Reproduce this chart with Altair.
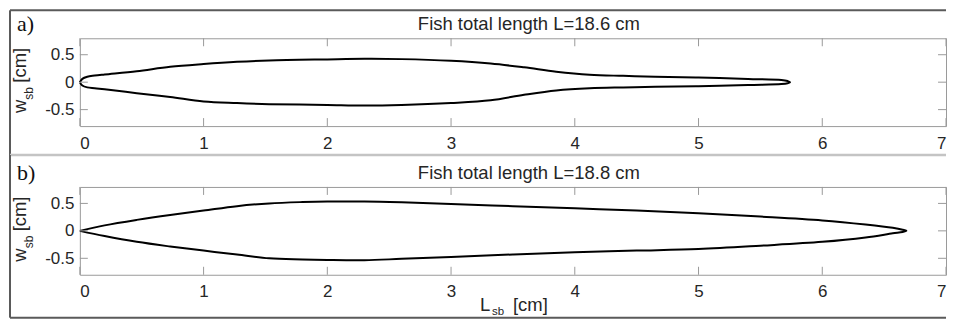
import altair as alt
import pandas as pd

titles = ["Fish total length L=18.6 cm", "Fish total length L=18.8 cm"]
panel_tags = ["a)", "b)"]
x_ticks = [0, 1, 2, 3, 4, 5, 6, 7]
y_ticks = [-0.5, 0, 0.5]

# panel a outline (upper edge nose->tail, then lower edge tail->nose)
fish_a_x = [0.00, 0.02, 0.06, 0.12, 0.20, 0.46, 0.73, 1.00, 1.27, 1.53, 2.00, 2.30, 2.60,
            3.00, 3.32, 3.59, 3.85, 4.12, 4.39, 4.65, 5.00, 5.40, 5.67, 5.72, 5.74,
            5.72, 5.67, 5.40, 5.00, 4.65, 4.39, 4.12, 3.85, 3.59, 3.32, 3.00, 2.60,
            2.30, 2.00, 1.53, 1.27, 1.00, 0.73, 0.46, 0.20, 0.12, 0.06, 0.02, 0.00]
fish_a_y = [0.00, 0.06, 0.10, 0.12, 0.14, 0.20, 0.28, 0.33, 0.37, 0.395, 0.415, 0.425, 0.42,
            0.39, 0.34, 0.27, 0.19, 0.135, 0.115, 0.10, 0.085, 0.06, 0.04, 0.02, 0.00,
            -0.02, -0.035, -0.05, -0.075, -0.085, -0.095, -0.11, -0.15, -0.23, -0.33, -0.38, -0.415,
            -0.425, -0.415, -0.40, -0.38, -0.35, -0.27, -0.20, -0.13, -0.11, -0.095, -0.06, 0.00]

# panel b outline
fish_b_x = [0.00, 0.20, 0.46, 0.73, 1.00, 1.27, 1.53, 1.80, 2.00, 2.30, 2.60, 3.00, 3.50,
            4.00, 4.50, 5.00, 5.50, 6.00, 6.35, 6.57, 6.65, 6.68,
            6.65, 6.57, 6.35, 6.00, 5.50, 5.00, 4.50, 4.00, 3.50, 3.00, 2.60, 2.30,
            2.00, 1.80, 1.53, 1.27, 1.00, 0.73, 0.46, 0.20, 0.00]
fish_b_y = [0.00, 0.10, 0.20, 0.29, 0.37, 0.45, 0.50, 0.525, 0.535, 0.535, 0.52, 0.49, 0.45,
            0.41, 0.37, 0.32, 0.26, 0.19, 0.115, 0.055, 0.02, 0.00,
            -0.02, -0.045, -0.12, -0.20, -0.27, -0.33, -0.36, -0.39, -0.43, -0.475, -0.51, -0.535,
            -0.53, -0.52, -0.50, -0.43, -0.36, -0.285, -0.20, -0.095, 0.00]

W, H = 868, 88
SANS = "Liberation Sans"
SERIF = "Liberation Serif"
AX = "#9a9a9a"
TXT = "#262626"
FRAME = "#5a5a5a"

one = pd.DataFrame({"k": [0]})
xs_ = alt.Scale(domain=[0, 7], nice=False, zero=False)
ys_ = alt.Scale(domain=[-0.8, 0.8], nice=False, zero=False)
ylabel = ("datum.value < 0 ? '-' + format(-datum.value, '.1f') : "
          "(datum.value > 0 ? format(datum.value, '.1f') : '0')")


def ax_x():
    return alt.Axis(values=x_ticks, title=None, labelPadding=9, format="d",
                    labelFlush=True, labelFlushOffset=0)


def ax_y():
    return alt.Axis(values=y_ticks, title=None, labelPadding=6, labelExpr=ylabel)


def txt(s, x, y, size, font=SANS, angle=0, color=TXT, align="left"):
    return alt.Chart(pd.DataFrame({"s": [s]})).mark_text(
        font=font, fontSize=size, color=color, align=align,
        baseline="alphabetic", angle=angle
    ).encode(x=alt.value(x), y=alt.value(y), text="s:N")


def rule(x, x2, y, y2, color, width):
    return alt.Chart(one).mark_rule(color=color, strokeWidth=width).encode(
        x=alt.value(x), x2=alt.value(x2), y=alt.value(y), y2=alt.value(y2))


def panel(xs, ys, title, tag, frame_layers, x_title):
    df = pd.DataFrame({"x": xs, "y": ys, "i": list(range(len(xs)))})
    outline = alt.Chart(df).mark_line(color="black", strokeWidth=2,
                                      interpolate="catmull-rom").encode(
        x=alt.X("x:Q", scale=xs_, axis=ax_x()),
        y=alt.Y("y:Q", scale=ys_, axis=ax_y()),
        order="i:Q",
    )
    xt = pd.DataFrame({"t": x_ticks})
    yt = pd.DataFrame({"t": y_ticks})
    xtop = alt.Chart(xt).mark_rule(color=AX).encode(
        x=alt.X("t:Q", scale=xs_, axis=ax_x()), y=alt.value(0), y2=alt.value(8))
    xbot = alt.Chart(xt).mark_rule(color=AX).encode(
        x=alt.X("t:Q", scale=xs_, axis=ax_x()), y=alt.value(H), y2=alt.value(H - 8))
    yl = alt.Chart(yt).mark_rule(color=AX).encode(
        y=alt.Y("t:Q", scale=ys_, axis=ax_y()), x=alt.value(0), x2=alt.value(8))
    yr = alt.Chart(yt).mark_rule(color=AX).encode(
        y=alt.Y("t:Q", scale=ys_, axis=ax_y()), x=alt.value(W - 8), x2=alt.value(W))
    layers = [outline, xtop, xbot, yl, yr,
              txt(title, 450, -8, 18.5, align="center"),
              txt(tag, -63, -7, 22, font=SERIF, color="#111111"),
              txt("w", -54, 75, 18.5, angle=270),
              txt("sb", -47, 61.5, 12, angle=270),
              txt("[cm]", -54, 44.5, 18.5, angle=270)]
    if x_title:
        layers += [txt("L", 401, 124, 18.5),
                   txt("sb", 413, 128.5, 11.5),
                   txt("[cm]", 434, 124, 18.5)]
    layers += frame_layers
    return alt.layer(*layers).properties(width=W, height=H)


frame_a = [rule(-70, -70, -28, 117, FRAME, 2),
           rule(-70, W, -28, -28, FRAME, 2),
           rule(-70, W, 117, 117, "#c4c4c4", 2.5)]
frame_b = [rule(-70, -70, -32, 131, FRAME, 2),
           rule(-70, W, 131, 131, FRAME, 2)]

pa = panel(fish_a_x, fish_a_y, titles[0], panel_tags[0], frame_a, False)
pb = panel(fish_b_x, fish_b_y, titles[1], panel_tags[1], frame_b, True)

chart = alt.vconcat(pa, pb, spacing=61, bounds="flush").properties(
    padding=0, background="white"
).configure_view(stroke=AX, strokeWidth=1).configure_axis(
    domain=False, ticks=False, tickSize=0, grid=False,
    labelFont=SANS, labelFontSize=17, labelColor=TXT
)

chart.save("out.html", embed_options={"renderer": "svg", "actions": False})
